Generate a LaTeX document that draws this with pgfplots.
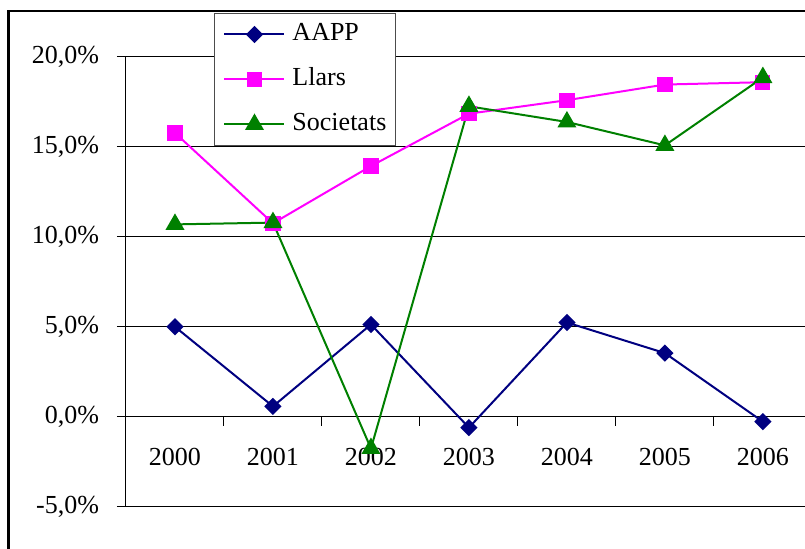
\documentclass[border=0pt]{standalone}
\usepackage{fontspec}
\setmainfont{Liberation Serif}
\usepackage{pgfplots}
\pgfplotsset{compat=1.18}
\definecolor{navyc}{HTML}{000080}
\definecolor{magc}{HTML}{FF00FF}
\definecolor{greenc}{HTML}{008000}
\begin{document}
\begin{tikzpicture}
\useasboundingbox (0pt,0pt) rectangle (402.5pt,-274.5pt);
\clip (0pt,0pt) rectangle (402.5pt,-274.5pt);
\draw[line width=1.1pt] (4.25pt,-5.5pt) rectangle (430pt,-300pt);
\begin{axis}[
  at={(63pt,-253.5pt)}, anchor=south west,
  scale only axis, width=339.5pt, height=225pt,
  xmin=-0.5, xmax=6.43, ymin=-5, ymax=20,
  axis x line*=middle, axis y line*=left,
  axis line style={black, line width=0.5pt, -},
  ytick={-5,0,5,10,15,20},
  yticklabels={{-5,0\%},{0,0\%},{5,0\%},{10,0\%},{15,0\%},{20,0\%}},
  yticklabel style={xshift=-5.5pt},
  xtick={-0.5,0.5,1.5,2.5,3.5,4.5,5.5}, xticklabels={},
  extra x ticks={0,1,2,3,4,5,6},
  extra x tick labels={2000,2001,2002,2003,2004,2005,2006},
  extra x tick style={major tick length=0pt, xticklabel style={yshift=-12pt}},
  hide obscured x ticks=false, hide obscured y ticks=false,
  ymajorgrids, major grid style={black, line width=0.5pt},
  tick style={black, line width=0.5pt},
  major tick length=4.5pt, tick align=outside,
  ticklabel style={font=\fontsize{13}{15}\selectfont},
  clip=false,
  legend style={at={(0.1296,1.0978)}, anchor=north west, draw=black!70, line width=0.5pt, fill=white,
    font=\fontsize{13}{15}\selectfont, inner xsep=4.5pt, inner ysep=4.5pt, row sep=10.5pt, column sep=3.5pt,
    nodes={inner sep=0pt, text height=9pt, text depth=3pt}},
  legend cell align=left,
  legend image code/.code={\draw[mark repeat=2,mark phase=2] plot coordinates {(0pt,0pt)(15pt,0pt)(30pt,0pt)};},
]
\addplot[navyc, line width=1pt, mark=diamond*, mark size=3.6pt, mark options={solid, xscale=1.333}]
  coordinates {(0,5.01)(1,0.59)(2,5.14)(3,-0.59)(4,5.25)(5,3.55)(6,-0.26)};
\addlegendentry{AAPP}
\addplot[magc, line width=1pt, mark=square*, mark size=3.3pt, mark options={solid}]
  coordinates {(0,15.78)(1,10.76)(2,13.94)(3,16.85)(4,17.6)(5,18.47)(6,18.6)};
\addlegendentry{Llars}
\addplot[greenc, line width=1pt, mark=triangle*, mark size=4.5pt, mark options={solid}]
  coordinates {(0,10.7)(1,10.8)(2,-1.75)(3,17.26)(4,16.39)(5,15.09)(6,18.86)};
\addlegendentry{Societats}
\end{axis}
\end{tikzpicture}
\end{document}
